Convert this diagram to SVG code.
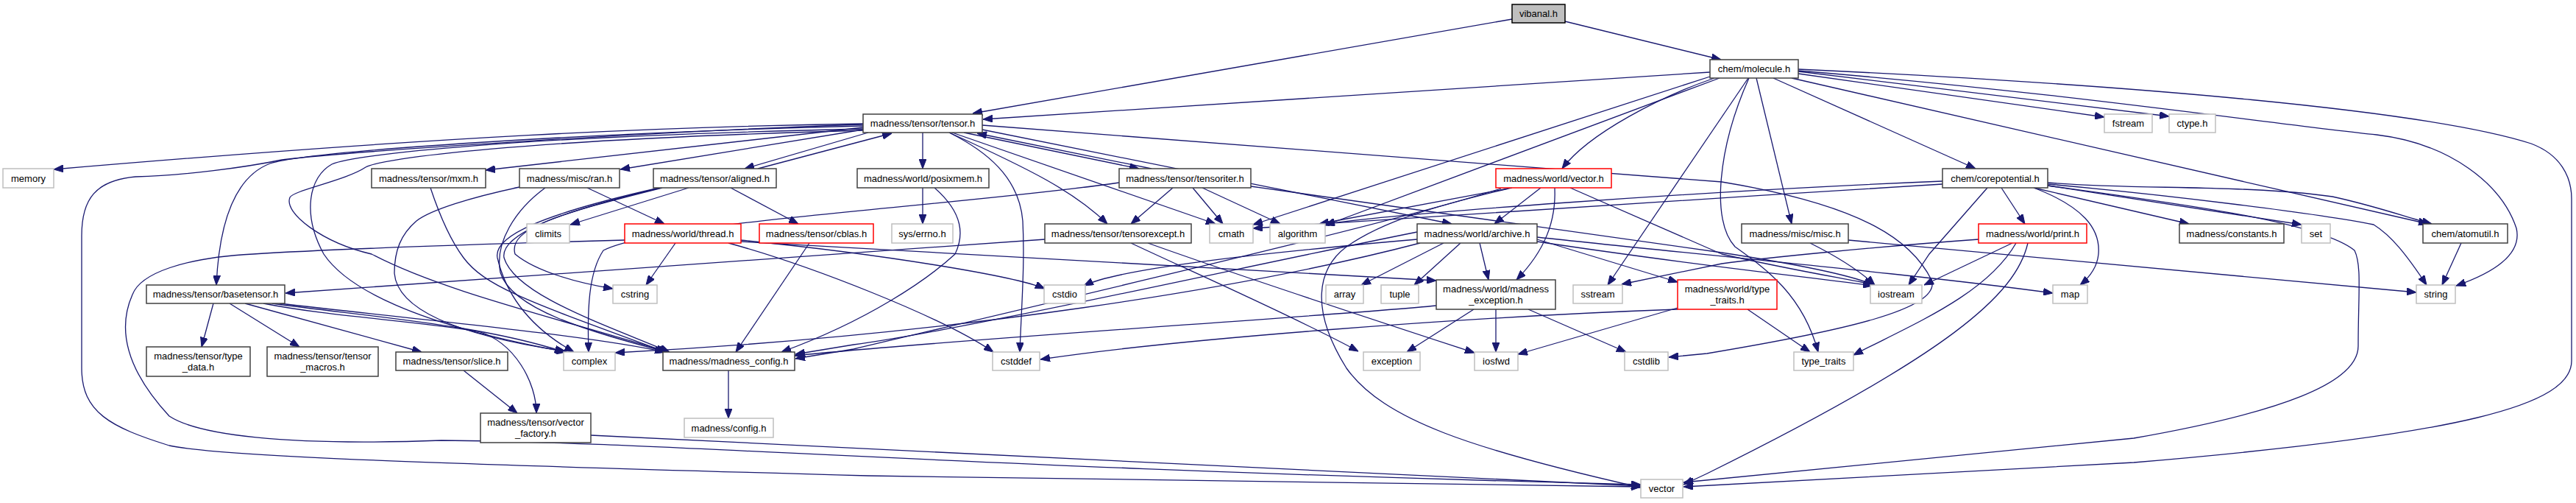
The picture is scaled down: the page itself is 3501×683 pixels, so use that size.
<svg xmlns="http://www.w3.org/2000/svg" width="3501" height="683" viewBox="0 0 3501 683">
<style>
.n rect{fill:#fff;stroke:#404040;stroke-width:1.5}
.g rect{fill:#fff;stroke:#bfbfbf;stroke-width:1.5}
.r rect{fill:#fff;stroke:#ff0000;stroke-width:1.5}
.root rect{fill:#bfbfbf;stroke:#000;stroke-width:1.5}
text{font-family:"Liberation Sans",Arial,sans-serif;font-size:13px;fill:#000;text-anchor:middle}
#edges path{fill:none;stroke:#191970;stroke-width:1.3;marker-end:url(#ah)}
</style>
<defs>
<marker id="ah" markerWidth="13" markerHeight="10" refX="13" refY="5" orient="auto" markerUnits="userSpaceOnUse"><path d="M0,0 L13,5 L0,10 z" fill="#191970" stroke="#191970" stroke-width="1"/></marker>
</defs>
<rect width="3501" height="683" fill="#fff"/>
<g id="edges">
<path d="M2055,26 L1322,154"/>
<path d="M2127,29 L2339,81"/>
<path d="M2324,98 L1336,162"/>
<path d="M2444,100 L2860,159"/>
<path d="M2444,97 L2948,158"/>
<path d="M2410,106 L2685,229"/>
<path d="M2387,106 L2435,304"/>
<path d="M2330,106 C2260,130 2160,180 2123,229"/>
<path d="M2324,104 L1703,305"/>
<path d="M2337,106 L1801,306"/>
<path d="M2435,106 L3300,304"/>
<path d="M2444,96 C2800,125 3100,170 3230,183 C3330,195 3400,250 3420,310 C3428,345 3390,370 3338,388"/>
<path d="M2444,94 C2900,115 3300,150 3440,195 C3480,210 3495,240 3495,270 L3495,490 C3495,550 3350,590 2900,628 L2288,661"/>
<path d="M2376,106 L2185,387"/>
<path d="M2377,106 C2335,200 2325,300 2358,335 C2400,365 2450,400 2471,478"/>
<path d="M1173,168 C900,172 600,185 73,230"/>
<path d="M1173,173 L660,231"/>
<path d="M1173,176 L843,230"/>
<path d="M1180,180 L1012,229"/>
<path d="M1030,229 L1212,181"/>
<path d="M1254,180 L1254,229"/>
<path d="M1310,180 L1548,229"/>
<path d="M1565,229 L1328,181"/>
<path d="M1290,180 C1400,230 1460,260 1505,304"/>
<path d="M1294,180 L1652,304"/>
<path d="M1335,176 L1973,304"/>
<path d="M1173,171 C800,180 420,205 367,222 C320,240 298,300 294,387"/>
<path d="M1173,169 C900,178 480,205 383,217 C330,228 250,238 184,240 C130,245 111,270 111,320 L111,500 C111,560 150,580 230,605 C300,620 600,630 1180,646 L2230,661"/>
<path d="M1290,180 C1340,205 1385,240 1390,300 C1393,360 1388,420 1386,478"/>
<path d="M1173,175 C700,185 480,210 451,223 C420,240 410,290 440,345 C470,390 560,440 770,478"/>
<path d="M1173,177 C700,190 520,215 497,227 C470,245 400,258 394,268 C385,290 440,330 505,345 C600,395 750,430 908,478"/>
<path d="M1335,170 L2340,247 C2540,280 2600,330 2625,380 C2640,420 2500,450 2320,480 L2268,485"/>
<path d="M585,255 C600,300 615,330 630,350 C660,390 720,410 905,478"/>
<path d="M706,254 C640,268 585,285 566,300 C545,318 536,340 536,371 C540,420 620,455 768,477"/>
<path d="M798,255 L903,304"/>
<path d="M741,255 C700,285 672,330 680,370 C695,420 800,450 906,478"/>
<path d="M936,255 L775,305"/>
<path d="M993,255 L1085,304"/>
<path d="M900,255 C760,290 690,310 700,345 C730,370 790,385 833,392"/>
<path d="M898,255 C750,290 680,320 685,350 C700,400 820,440 910,478"/>
<path d="M896,255 C740,290 670,320 676,350 C690,410 730,450 780,478"/>
<path d="M918,330 L878,387"/>
<path d="M1006,326 C1200,345 1380,375 1420,392"/>
<path d="M990,330 C1100,360 1280,430 1350,478"/>
<path d="M849,326 C600,333 420,340 344,345 C250,350 191,371 180,400 C160,445 170,500 230,565 C268,590 383,606 600,598 C900,600 1300,635 2230,658"/>
<path d="M1006,328 L1952,381"/>
<path d="M1100,330 L1000,478"/>
<path d="M1254,255 L1254,304"/>
<path d="M1270,255 C1310,290 1310,320 1298,345 C1260,380 1180,435 1062,478"/>
<path d="M1594,255 L1537,304"/>
<path d="M1621,255 L1662,304"/>
<path d="M1634,255 L1740,304"/>
<path d="M1521,248 C1300,280 900,300 820,340 C800,370 798,420 800,478"/>
<path d="M1700,253 L2340,343 C2450,360 2520,375 2546,387"/>
<path d="M1420,325 L388,398"/>
<path d="M1537,330 C1600,360 1760,430 1846,477"/>
<path d="M1560,330 C1700,380 1900,445 2004,479"/>
<path d="M1962,330 L1850,387"/>
<path d="M1985,330 L1922,387"/>
<path d="M2011,330 L2023,380"/>
<path d="M1926,325 C1700,345 1520,365 1473,388"/>
<path d="M2089,325 L2280,383"/>
<path d="M2089,328 C2300,360 2450,375 2545,388"/>
<path d="M2089,322 C2300,345 2600,372 2790,398"/>
<path d="M1926,315 C1700,360 1300,450 1160,468 L1081,481"/>
<path d="M1930,330 C1700,390 1300,455 836,479"/>
<path d="M2094,255 L2031,304"/>
<path d="M2113,255 C2115,300 2100,340 2061,380"/>
<path d="M2055,255 L1793,304"/>
<path d="M2134,255 L2340,345 C2450,370 2520,380 2548,387"/>
<path d="M2050,256 C1950,280 1880,300 1830,335 C1790,365 1780,420 1830,500 C1880,570 2000,610 2230,662"/>
<path d="M2040,256 C1900,300 1600,370 1160,474 L1081,487"/>
<path d="M2720,255 L2752,304"/>
<path d="M2764,255 L2975,304"/>
<path d="M2783,252 L3128,305"/>
<path d="M2783,248 C2900,258 3050,250 3170,267 C3230,280 3270,295 3305,304"/>
<path d="M2783,250 C2950,265 3150,290 3226,305 C3250,320 3270,345 3298,387"/>
<path d="M2764,255 C2830,280 2855,310 2852,345 C2850,365 2838,378 2827,387"/>
<path d="M2701,255 L2622,345 L2594,387"/>
<path d="M2640,246 C2300,260 1900,290 1801,304"/>
<path d="M2640,250 C2300,270 1900,300 1703,310"/>
<path d="M2783,252 C2950,275 3150,300 3200,340 C3210,360 3205,400 3205,470 C3205,520 3100,560 2900,595 L2288,655"/>
<path d="M2735,330 L2615,387"/>
<path d="M2756,330 C2740,400 2650,480 2320,643 L2288,658"/>
<path d="M2740,330 C2700,400 2600,440 2519,482"/>
<path d="M2689,325 C2550,335 2400,350 2340,358 L2204,386"/>
<path d="M2460,330 C2500,350 2530,370 2548,387"/>
<path d="M2512,326 L3284,397"/>
<path d="M3345,330 L3319,387"/>
<path d="M290,412 L274,471"/>
<path d="M312,412 L407,471"/>
<path d="M333,412 L573,478"/>
<path d="M358,412 C450,430 560,435 650,450 C700,465 729,520 729,561"/>
<path d="M370,412 C500,430 650,440 767,478"/>
<path d="M380,412 C550,432 800,455 903,478"/>
<path d="M630,503 L703,561"/>
<path d="M803,591 C1200,610 1800,640 2230,660"/>
<path d="M990,503 L990,568"/>
<path d="M2003,420 L1912,478"/>
<path d="M2033,420 L2033,478"/>
<path d="M2077,420 L2210,478"/>
<path d="M1952,415 C1800,430 1300,460 1080,483"/>
<path d="M2375,420 L2460,478"/>
<path d="M2280,418 L2063,481"/>
<path d="M2280,420 C2000,430 1600,460 1414,488"/>
</g>
<g id="vibanal" class="root"><rect x="2055" y="6" width="72" height="25"/><text x="2091" y="23">vibanal.h</text></g>
<g id="molecule" class="n"><rect x="2324" y="81" width="120" height="25"/><text x="2384" y="98">chem/molecule.h</text></g>
<g id="tensor" class="n"><rect x="1173" y="155" width="162" height="25"/><text x="1254" y="172">madness/tensor/tensor.h</text></g>
<g id="fstream" class="g"><rect x="2860" y="155" width="65" height="25"/><text x="2892.5" y="172">fstream</text></g>
<g id="ctype" class="g"><rect x="2948" y="155" width="63" height="25"/><text x="2979.5" y="172">ctype.h</text></g>
<g id="memory" class="g"><rect x="4" y="229" width="69" height="26"/><text x="38.5" y="246.5">memory</text></g>
<g id="mxm" class="n"><rect x="505" y="229" width="155" height="26"/><text x="582.5" y="246.5">madness/tensor/mxm.h</text></g>
<g id="ran" class="n"><rect x="706" y="229" width="136" height="26"/><text x="774" y="246.5">madness/misc/ran.h</text></g>
<g id="aligned" class="n"><rect x="888" y="229" width="167" height="26"/><text x="971.5" y="246.5">madness/tensor/aligned.h</text></g>
<g id="posixmem" class="n"><rect x="1165" y="229" width="179" height="26"/><text x="1254.5" y="246.5">madness/world/posixmem.h</text></g>
<g id="tensoriter" class="n"><rect x="1521" y="229" width="179" height="26"/><text x="1610.5" y="246.5">madness/tensor/tensoriter.h</text></g>
<g id="vectorh" class="r"><rect x="2033" y="229" width="157" height="26"/><text x="2111.5" y="246.5">madness/world/vector.h</text></g>
<g id="corepotential" class="n"><rect x="2640" y="229" width="143" height="26"/><text x="2711.5" y="246.5">chem/corepotential.h</text></g>
<g id="climits" class="g"><rect x="716" y="304" width="58" height="26"/><text x="745" y="321.5">climits</text></g>
<g id="thread" class="r"><rect x="849" y="304" width="158" height="26"/><text x="928" y="321.5">madness/world/thread.h</text></g>
<g id="cblas" class="r"><rect x="1032" y="304" width="155" height="26"/><text x="1109.5" y="321.5">madness/tensor/cblas.h</text></g>
<g id="errno" class="g"><rect x="1212" y="304" width="83" height="26"/><text x="1253.5" y="321.5">sys/errno.h</text></g>
<g id="tensorexcept" class="n"><rect x="1420" y="304" width="199" height="26"/><text x="1519.5" y="321.5">madness/tensor/tensorexcept.h</text></g>
<g id="cmath" class="g"><rect x="1644" y="304" width="59" height="26"/><text x="1673.5" y="321.5">cmath</text></g>
<g id="algorithm" class="g"><rect x="1726" y="304" width="75" height="26"/><text x="1763.5" y="321.5">algorithm</text></g>
<g id="archive" class="n"><rect x="1926" y="304" width="163" height="26"/><text x="2007.5" y="321.5">madness/world/archive.h</text></g>
<g id="misc" class="n"><rect x="2367" y="304" width="145" height="26"/><text x="2439.5" y="321.5">madness/misc/misc.h</text></g>
<g id="print" class="r"><rect x="2689" y="304" width="147" height="26"/><text x="2762.5" y="321.5">madness/world/print.h</text></g>
<g id="constants" class="n"><rect x="2962" y="304" width="142" height="26"/><text x="3033" y="321.5">madness/constants.h</text></g>
<g id="set" class="g"><rect x="3128" y="304" width="39" height="26"/><text x="3147.5" y="321.5">set</text></g>
<g id="atomutil" class="n"><rect x="3293" y="304" width="115" height="26"/><text x="3350.5" y="321.5">chem/atomutil.h</text></g>
<g id="basetensor" class="n"><rect x="199" y="387" width="188" height="25"/><text x="293" y="404">madness/tensor/basetensor.h</text></g>
<g id="cstring" class="g"><rect x="833" y="387" width="60" height="25"/><text x="863" y="404">cstring</text></g>
<g id="cstdio" class="g"><rect x="1419" y="387" width="56" height="25"/><text x="1447" y="404">cstdio</text></g>
<g id="array" class="g"><rect x="1802" y="387" width="51" height="25"/><text x="1827.5" y="404">array</text></g>
<g id="tuple" class="g"><rect x="1877" y="387" width="51" height="25"/><text x="1902.5" y="404">tuple</text></g>
<g id="madness_exception" class="n"><rect x="1952" y="380" width="162" height="40"/><text x="2033" y="396.5">madness/world/madness</text><text x="2033" y="411.5">_exception.h</text></g>
<g id="sstream" class="g"><rect x="2138" y="387" width="67" height="25"/><text x="2171.5" y="404">sstream</text></g>
<g id="world_type_traits" class="r"><rect x="2280" y="380" width="135" height="40"/><text x="2347.5" y="396.5">madness/world/type</text><text x="2347.5" y="411.5">_traits.h</text></g>
<g id="iostream" class="g"><rect x="2542" y="387" width="70" height="25"/><text x="2577" y="404">iostream</text></g>
<g id="map" class="g"><rect x="2790" y="387" width="47" height="25"/><text x="2813.5" y="404">map</text></g>
<g id="string" class="g"><rect x="3284" y="387" width="53" height="25"/><text x="3310.5" y="404">string</text></g>
<g id="type_data" class="n"><rect x="199" y="471" width="141" height="40"/><text x="269.5" y="487.5">madness/tensor/type</text><text x="269.5" y="502.5">_data.h</text></g>
<g id="tensor_macros" class="n"><rect x="363" y="471" width="151" height="40"/><text x="438.5" y="487.5">madness/tensor/tensor</text><text x="438.5" y="502.5">_macros.h</text></g>
<g id="slice" class="n"><rect x="538" y="478" width="152" height="25"/><text x="614" y="495">madness/tensor/slice.h</text></g>
<g id="complex" class="g"><rect x="766" y="478" width="70" height="25"/><text x="801" y="495">complex</text></g>
<g id="madness_config" class="n"><rect x="901" y="478" width="179" height="25"/><text x="990.5" y="495">madness/madness_config.h</text></g>
<g id="cstddef" class="g"><rect x="1349" y="478" width="64" height="25"/><text x="1381" y="495">cstddef</text></g>
<g id="exception" class="g"><rect x="1853" y="478" width="77" height="25"/><text x="1891.5" y="495">exception</text></g>
<g id="iosfwd" class="g"><rect x="2004" y="478" width="59" height="25"/><text x="2033.5" y="495">iosfwd</text></g>
<g id="cstdlib" class="g"><rect x="2208" y="478" width="59" height="25"/><text x="2237.5" y="495">cstdlib</text></g>
<g id="type_traits" class="g"><rect x="2438" y="478" width="81" height="25"/><text x="2478.5" y="495">type_traits</text></g>
<g id="vector_factory" class="n"><rect x="653" y="561" width="150" height="40"/><text x="728" y="577.5">madness/tensor/vector</text><text x="728" y="592.5">_factory.h</text></g>
<g id="config" class="g"><rect x="930" y="568" width="121" height="26"/><text x="990.5" y="585.5">madness/config.h</text></g>
<g id="vector" class="g"><rect x="2230" y="651" width="57" height="25"/><text x="2258.5" y="668">vector</text></g>
</svg>
